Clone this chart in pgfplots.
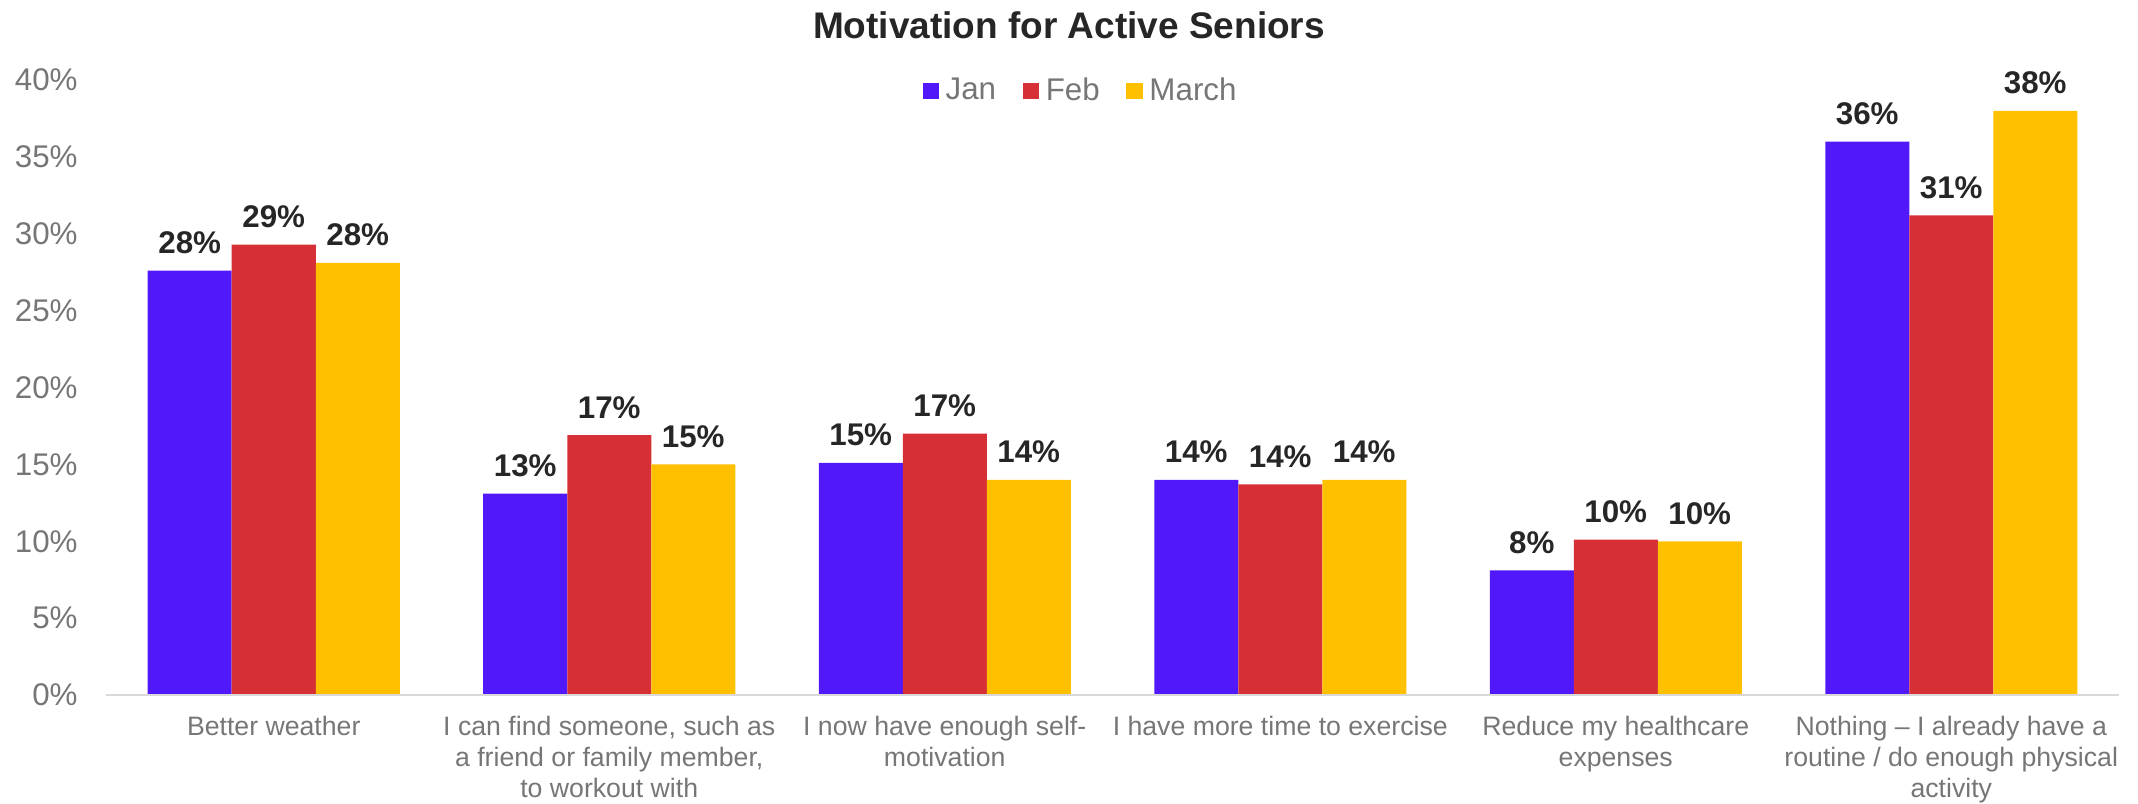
\documentclass[border=0pt]{standalone}
\usepackage{fontspec}
\setmainfont{Liberation Sans}
\usepackage{pgfplots}
\usepackage{pgfplotstable}
\pgfplotsset{compat=1.18}
\definecolor{cJan}{HTML}{5119FA}
\definecolor{cFeb}{HTML}{D63036}
\definecolor{cMar}{HTML}{FFC000}
\definecolor{tgray}{HTML}{767676}
\definecolor{tdark}{HTML}{262626}
\definecolor{agray}{HTML}{D9D9D9}

\pgfplotstableread{
x jan feb mar
0 27.6 29.3 28.1
1 13.1 16.9 15.0
2 15.1 17.0 14.0
3 14.0 13.7 14.0
4 8.1 10.1 10.0
5 36.0 31.2 38.0
}\datatable

\begin{document}
\begin{tikzpicture}
\useasboundingbox (-31.8pt,-32.4pt) rectangle (609.6pt,208.5pt);
\begin{axis}[
  at={(0,0)}, anchor=south west,
  width=603.9pt, height=184.5pt, scale only axis,
  xmin=-0.5, xmax=5.5, ymin=0, ymax=40,
  ybar=0pt, bar width=25.2pt,
  axis line style={draw=none},
  major tick length=0pt,
  clip=false,
  xtick={0,...,5},
  xticklabels={{Better weather},{I can find someone, such as\\a friend or family member,\\to workout with},{I now have enough self-\\motivation},{I have more time to exercise},{Reduce my healthcare\\expenses},{Nothing – I already have a\\routine / do enough physical\\activity}},
  xticklabel style={font=\fontsize{8}{9.3}\selectfont, text=tgray, align=center, anchor=north, yshift=-2.8pt},
  ytick={0,5,...,40},
  yticklabel={\pgfmathprintnumber{\tick}\%},
  /pgf/number format/assume math mode=true,
  yticklabel style={font=\fontsize{9.4}{11}\selectfont, text=tgray, xshift=-5pt},
  nodes near coords={\pgfmathprintnumber[fixed,precision=0]{\pgfplotspointmeta}\%},
  nodes near coords style={font=\bfseries\fontsize{9.4}{11}\selectfont, text=tdark, yshift=1.5pt},
  legend style={at={(0.4853,0.9816)}, anchor=center, draw=none, fill=none,
    font=\fontsize{9.4}{11}\selectfont, text=tgray,
    /tikz/every even column/.append style={column sep=6pt}},
  legend columns=3,
  sq/.style={legend image code/.code={\fill[##1, draw=none] (0pt,-2.45pt) rectangle (4.9pt,2.45pt);}},
]
\addplot[fill=cJan, draw=none, sq] table[x=x, y=jan] {\datatable};
\addplot[fill=cFeb, draw=none, sq] table[x=x, y=feb] {\datatable};
\addplot[fill=cMar, draw=none, sq] table[x=x, y=mar] {\datatable};
\legend{Jan, Feb, March}
\draw[agray, line width=0.7pt] (axis cs:-0.5,0) -- (axis cs:5.5,0);
\end{axis}
\node[font=\bfseries\fontsize{11.1}{13}\selectfont, text=tdark] at (288.9pt,201pt) {Motivation for Active Seniors};
\end{tikzpicture}
\end{document}
